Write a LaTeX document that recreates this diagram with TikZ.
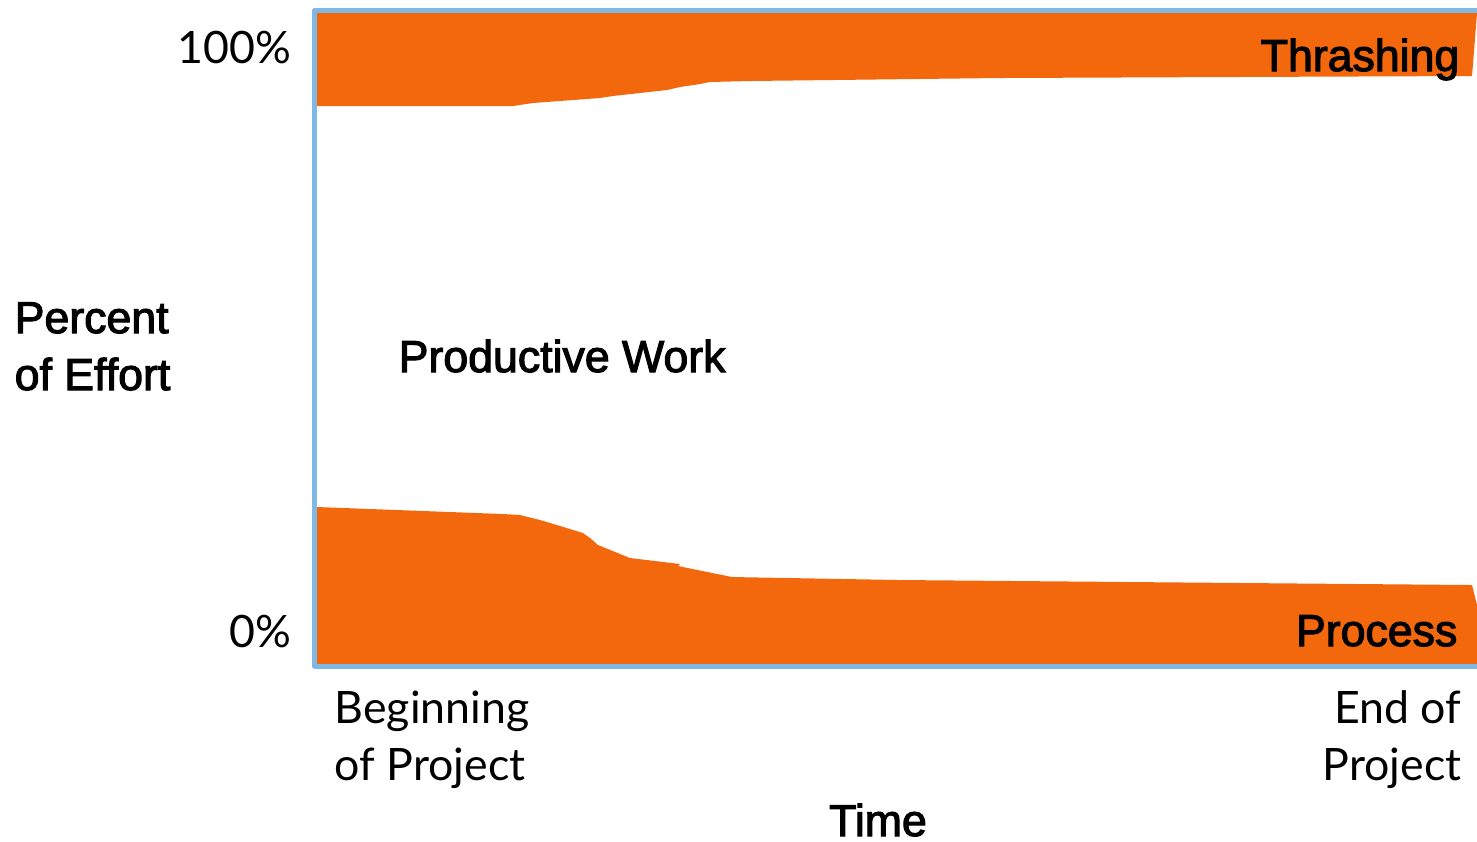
\documentclass[tikz,border=0pt]{standalone}
\usepackage{fontspec}
\setmainfont{Liberation Sans}
\newfontfamily\medfont{Liberation Sans}[RawFeature={embolden=2.5}]
\newfontfamily\lightfont{Lato}
\usetikzlibrary{positioning,calc}
\definecolor{effortorange}{RGB}{243,104,12}
\definecolor{framebl}{RGB}{127,184,228}

\begin{document}
\begin{tikzpicture}[x=0.01cm,y=-0.01cm,
    label text/.style={font=\medfont\fontsize{12.7}{16.2}\selectfont, inner sep=0pt},
    tick text/.style={font=\lightfont\fontsize{12.7}{16.2}\selectfont, inner sep=0pt}]
    \useasboundingbox (0,0) rectangle (1477,841);

    % thrashing band along the top
    \fill[effortorange] (317,13) -- (1477,13) -- (1472,76) -- (1000,78) -- (750,81) -- (710,82)
        -- (700,84) -- (680,87) -- (667,90) -- (613,96) -- (600,98) -- (533,103) -- (513,106)
        -- (317,106) -- cycle;
    % process band along the bottom
    \fill[effortorange] (317,507) -- (503,514) -- (520,515) -- (540,520) -- (557,525) -- (583,533)
        -- (590,538) -- (598,545) -- (630,558) -- (680,564) -- (678,566) -- (732,577) -- (900,580)
        -- (1472,585) -- (1477,605) -- (1477,664) -- (317,664) -- cycle;

    % frame, open on the right
    \draw[framebl, line width=1.42pt, line join=round] (1477,10.5) -- (314.5,10.5) -- (314.5,666) -- (1477,666);

    % axis labels
    \node[tick text, anchor=base east] (full) at (292,63) {100\%};
    \node[tick text, anchor=base east] (zero) at (292,647) {0\%};
    \node[label text, align=left, anchor=base west] (effort) at (14,390) {Percent\\of Effort};
    \node[tick text, align=left, anchor=base west] (begin) at (334,780) {Beginning\\of Project};
    \node[tick text, align=right, anchor=base east] (end) at (1462,780) {End of\\Project};
    \node[label text, anchor=base] (time) at (878,836) {Time};

    % band labels
    \node[label text, anchor=base east] (thrash) at (1460,71) {Thrashing};
    \node[label text, anchor=base west] (work) at (398,372) {Productive Work};
    \node[label text, anchor=base east] (process) at (1458,646) {Process};
\end{tikzpicture}
\end{document}
